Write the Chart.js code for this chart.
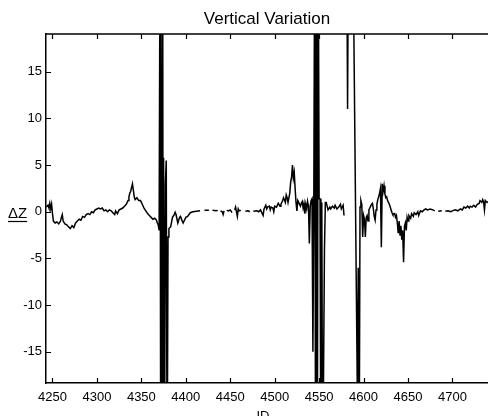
<!DOCTYPE html>
<html><head><meta charset="utf-8">
<script src="https://cdn.jsdelivr.net/npm/chart.js@4"></script>
<style>html,body{margin:0;padding:0;background:#fff;overflow:hidden}canvas{display:block}</style>
</head><body>
<canvas id="c" width="488" height="416"></canvas>
<script>
const titleText = 'Vertical Variation';
const xTitle = 'ID';
const yTitle = '\u0394Z';
const xTicks = [4250, 4300, 4350, 4400, 4450, 4500, 4550, 4600, 4650, 4700];
const yTicks = [-15, -10, -5, 0, 5, 10, 15];
const yTickLabels = ['-15', '-10', '-5', '0', '5', '10', '15'];

const ids = [
 4243,4245,4246,4247,4248,4249,4250,4251,4253,4255,4257,4259,4260,4261,4262,4264,4266,4268,4270,4272,
 4274,4276,4278,4280,4282,4284,4286,4288,4290,4292,4294,4296,4298,4300,4302,4304,4306,4308,4310,4312,
 4314,4316,4318,4320,4321,4323,4325,4327,4329,4331,4333,4335,4336,4337,4338,4339,4340,4341,4342,4343,
 4345,4347,4349,4351,4353,4355,4357,4359,4361,4363,4365,4367,4368,4369,4370,
 4371,4371.5,4372,4373,4374,4374.5,4375,4376,4377,4378,4379,
 4380,4381,4383,4385,4387,4388,4389,4391,4393,4394,4396,4397,4399,4400,4402,4405,4408,4412,4416,4418,
 4421,4426,4428,4430,4434,4436,4437,4439,4441,4442,4443,4444,4446,4448,4450,4452,4453,4455,4456,4457,
 4458,4459,4460,4462,4463,4467,4470,4472,4473,4476,4480,4482,4484,4486,4487,4488,4490,4491,4492,4494,
 4495,4496,4498,4499,4500,4502,4504,4506,4507,4509,4510,4512,4513,4514,4515,4517,4518,4519,4520,4521,
 4522,4523,4524,4525,4526,4527,4529,4530,4531,4532,4533,4534,4535,4536,4537,4538,4539,4540,4541,4542,
 4543,4544,4545,4546,4547,4548,4549,4550,4551,4552,4553,4554,4556,4557,4558,4560,4562,4563,4565,4567,
 4568,4570,4572,4574,4575,4577,4578,4579,4581,4582,4583,4586,4589,4593,4594,4595,
 4596,4597,4598,4599,4600,4601,4602,4603,4604,4605,4606,4607,4608,4609,4610,4611,4612,4613,4614,4615,
 4616,4617,4618,4619,4620,4621,4622,4623,4624,4625,4626,4627,4628,4629,4630,4631,4632,4633,4635,4636,
 4637,4638,4639,4640,4641,4642,4643,4644,4645,4646,4647,4648,4649,4650,4651,4653,4654,4656,4657,4659,
 4661,4662,4664,4666,4668,4670,4672,4675,4678,4680,4682,4684,4688,4689,4692,4695,4698,4700,4703,4706,
 4709,4711,4713,4715,4717,4719,4720,4722,4724,4726,4728,4730,4731,4733,4734,4735,4736,4737,4739,4740
];
const dz = [
 0.5,0.7,0.4,0.9,0.3,0.8,-0.2,-1.0,-1.2,-1.1,-1.3,-1.0,-0.6,-0.3,-1.0,-1.3,-1.4,-1.6,-1.8,-1.5,
 -1.7,-1.2,-1.0,-0.8,-0.9,-0.5,-0.6,-0.3,-0.2,-0.3,0.0,-0.1,0.2,0.3,0.4,0.3,0.4,0.1,0.2,0.0,
 0.2,0.1,-0.1,-0.3,0.1,-0.2,0.2,0.3,0.4,0.6,0.8,1.2,1.6,2.0,2.2,2.6,3.0,2.3,1.6,1.3,
 1.5,1.2,1.2,0.8,0.4,0.1,-0.2,-0.4,-0.6,-0.8,-0.7,-0.9,-1.2,-1.4,-2.0,
 30,-30,30,-30,30,-30,5.8,-30,3.0,5.5,-30,
 -2.7,-1.8,-1.6,-0.6,-0.3,-0.05,-0.3,-1.2,-0.6,-0.5,-1.0,-1.2,-0.8,-0.6,-0.5,-0.1,0.0,0.05,0.1,null,
 0.15,0.15,null,0.15,0.1,0.15,null,0.1,0.0,-0.3,0.1,null,0.15,0.1,0.2,-0.1,null,0.2,0.5,0.0,
 -0.5,0.3,0.1,0.15,null,0.05,0.1,0.0,null,0.05,0.1,0.0,0.2,-0.2,-0.4,0.3,0.7,0.3,0.5,0.6,
 0.2,0.5,0.4,0.0,0.6,0.5,0.9,0.6,0.8,1.2,1.5,1.0,1.8,1.5,1.0,2.0,3.2,3.7,5.0,3.6,
 4.2,2.5,1.0,0.1,1.2,1.0,0.6,0.9,1.1,0.4,0.9,-0.2,0.8,0.3,1.1,0.6,-3.4,0.6,1.2,1.4,
 -15,0.8,30,-30,30,-30,30,1.4,1.4,-30,1.0,-30,-4,1.0,1.0,0.2,0.5,0.3,0.6,0.4,
 0.7,0.3,0.5,0.8,0.3,0.7,-0.4,null,30,11,30,30,20,-19.5,-6,-30,
 0.5,1.2,0.8,-2.7,-0.4,-0.8,-2.7,-0.6,-0.4,-1.0,0.2,0.4,0.6,0.8,0.9,0.3,-0.5,-0.9,0.2,0.8,
 1.3,1.6,2.0,2.5,-3.8,3.0,2.2,2.8,1.9,1.5,1.6,1.2,1.0,0.8,0.5,0.2,-0.1,-0.3,-0.2,-0.6,
 -0.4,-1.2,-2.3,-1.0,-2.5,-1.5,-3.0,-2.0,-5.4,-1.6,-1.2,-2.0,-0.6,-1.0,-0.4,-0.7,-0.2,-0.5,-0.1,-0.3,
 0.0,-0.4,0.1,0.0,0.2,0.3,0.2,0.3,0.2,0.1,null,0.05,0.1,null,0.05,0.1,0.0,0.1,0.2,0.1,
 0.3,0.2,0.5,0.4,0.6,0.4,0.6,0.5,0.7,0.5,0.8,0.9,1.2,1.0,1.3,1.1,0.2,1.2,1.0,1.1
];

const tickFont = {family: '"Liberation Sans", Arial, sans-serif', size: 13};

const framePlugin = {
  id: 'frame',
  afterDraw(chart) {
    const ctx = chart.ctx, a = chart.chartArea;
    const xs = chart.scales.x, ys = chart.scales.y;
    ctx.save();
    ctx.strokeStyle = '#000';
    ctx.lineWidth = 1.5;
    ctx.beginPath();
    ctx.moveTo(a.left, a.top); ctx.lineTo(a.right, a.top);
    ctx.stroke();
    ctx.lineWidth = 1.2;
    ctx.beginPath();
    xTicks.forEach(v => {
      const px = Math.round(xs.getPixelForValue(v)) + 0.5;
      ctx.moveTo(px, a.bottom); ctx.lineTo(px, a.bottom - 5);
      ctx.moveTo(px, a.top); ctx.lineTo(px, a.top + 5);
    });
    yTicks.forEach(v => {
      const py = Math.round(ys.getPixelForValue(v)) + 0.5;
      ctx.moveTo(a.left, py); ctx.lineTo(a.left + 5, py);
    });
    ctx.stroke();
    // texts
    ctx.fillStyle = '#000';
    ctx.textAlign = 'center';
    ctx.textBaseline = 'alphabetic';
    ctx.font = '17px "Liberation Sans", Arial, sans-serif';
    ctx.fillText(titleText, (a.left + a.right) / 2, 24);
    ctx.font = '13px "Liberation Sans", Arial, sans-serif';
    ctx.fillText(xTitle, (a.left + a.right) / 2 - 4, 420);
    ctx.textAlign = 'left';
    ctx.font = '15px "Liberation Sans", Arial, sans-serif';
    const py0 = ys.getPixelForValue(0);
    ctx.fillText(yTitle, 8, py0 + 6);
    const w = ctx.measureText(yTitle).width;
    ctx.lineWidth = 1.2;
    ctx.beginPath();
    ctx.moveTo(8, Math.round(py0) + 9.5); ctx.lineTo(8 + w, Math.round(py0) + 9.5);
    ctx.stroke();
    ctx.restore();
  }
};

new Chart(document.getElementById('c'), {
  type: 'line',
  data: {
    datasets: [{
      data: ids.map((id, i) => ({x: id, y: dz[i]})),
      borderColor: '#000',
      borderWidth: 1.5,
      pointRadius: 0,
      tension: 0,
      spanGaps: false,
      clip: 0
    }]
  },
  options: {
    responsive: false,
    animation: false,
    devicePixelRatio: 1,
    layout: {padding: {left: 0, right: 0, top: 34, bottom: 0}},
    plugins: {legend: {display: false}, title: {display: false}, tooltip: {enabled: false}},
    scales: {
      x: {
        type: 'linear', min: 4242.7, max: 4740,
        afterFit: s => { s.height = 33; },
        afterBuildTicks: s => { s.ticks = xTicks.map(v => ({value: v})); },
        grid: {display: false, drawTicks: false},
        border: {display: true, color: '#000', width: 1.5},
        ticks: {font: tickFont, color: '#000', padding: 7, maxRotation: 0, autoSkip: false,
                callback: v => String(v)}
      },
      y: {
        type: 'linear', min: -18.35, max: 19.05,
        afterFit: s => { s.width = 46; },
        afterBuildTicks: s => { s.ticks = yTicks.map(v => ({value: v})); },
        grid: {display: false, drawTicks: false},
        border: {display: true, color: '#000', width: 1.5},
        ticks: {font: tickFont, color: '#000', padding: 4, autoSkip: false,
                callback: v => yTickLabels[yTicks.indexOf(v)]}
      }
    }
  },
  plugins: [framePlugin]
});
</script>
</body></html>
